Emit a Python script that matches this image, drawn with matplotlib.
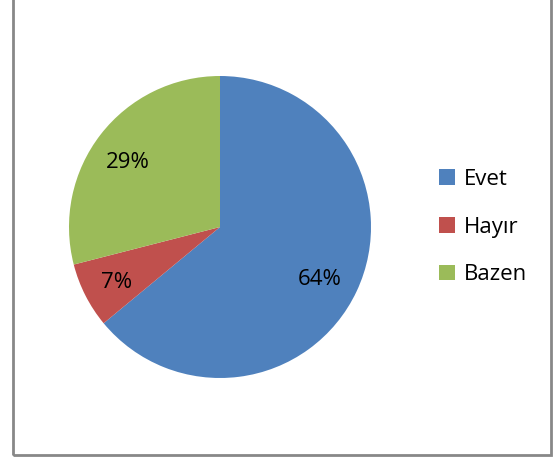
import matplotlib
matplotlib.use("Agg")
import matplotlib.pyplot as plt
from matplotlib.patches import Rectangle, Patch

categories = ["Evet", "Hayır", "Bazen"]
values = [64, 7, 29]
colors = ["#4F81BD", "#C0504D", "#9BBB59"]

plt.rcParams['font.family'] = ['Open Sans', 'DejaVu Sans']

W, H = 555, 457
fig = plt.figure(figsize=(W / 100, H / 100), dpi=100)

cx, cy, r = 220, 227, 151
ax = fig.add_axes([(cx - r) / W, (H - cy - r) / H, 2 * r / W, 2 * r / H])
wedges, texts, autotexts = ax.pie(
    values, colors=colors, startangle=90, counterclock=False,
    autopct=lambda p: f"{p:.0f}%", pctdistance=0.75, radius=1.0,
    wedgeprops=dict(linewidth=0), textprops=dict(fontsize=16, color="black"))
for t in autotexts:
    x, y = t.get_position()
    t.set_position((x - 0.02, y - 0.03))
ax.set_xlim(-1, 1)
ax.set_ylim(-1, 1)
ax.set_aspect('equal')
ax.axis('off')

handles = [Patch(facecolor=c, edgecolor='none') for c in colors]
fig.legend(handles, categories, loc='center left',
           bbox_to_anchor=(419 / W, 1 - 227 / H), frameon=False,
           fontsize=16, handlelength=0.7, handleheight=0.7,
           handletextpad=0.4, labelspacing=1.2)

border = Rectangle((13 / W, 2 / H), (551 - 13) / W, 1.5, transform=fig.transFigure,
                   fill=False, edgecolor="#888888", linewidth=2)
fig.patches.append(border)

fig.savefig("out.png", dpi=100)
